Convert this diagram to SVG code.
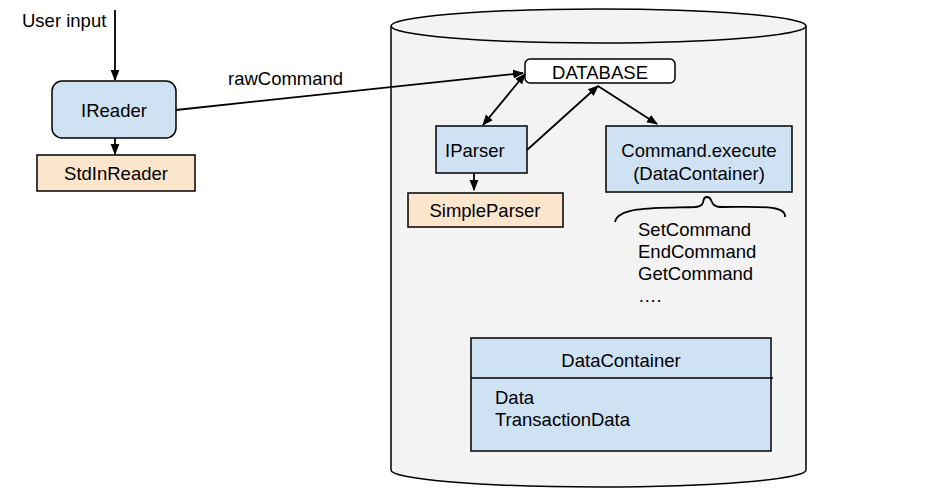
<svg xmlns="http://www.w3.org/2000/svg" width="950" height="502" viewBox="0 0 950 502">
<defs>
<marker id="ah" viewBox="0 0 10 10" refX="9" refY="5" markerWidth="11" markerHeight="11" markerUnits="userSpaceOnUse" orient="auto-start-reverse">
<path d="M0,1 L10,5 L0,9 Z" fill="#000"/>
</marker>
<style>
text{font-family:"Liberation Sans",Arial,sans-serif;font-size:18.5px;fill:#000}
.c{text-anchor:middle}
.blue{fill:#cfe2f3;stroke:#000;stroke-width:1.5}
.orange{fill:#fce5cd;stroke:#000;stroke-width:1.5}
.ln{fill:none;stroke:#000;stroke-width:1.8}
</style>
</defs>
<rect width="950" height="502" fill="#fff"/>
<g id="cylinder">
<path d="M391,26 L391,470 A207.5,17 0 0 0 806,470 L806,26" fill="#f3f3f3" stroke="#000" stroke-width="1.5"/>
<ellipse cx="598.5" cy="26" rx="207.5" ry="17" fill="#f3f3f3" stroke="#000" stroke-width="1.5"/>
</g>
<g id="user-input"><text x="22" y="27">User input</text></g>
<g id="ireader">
<rect class="blue" x="52" y="81" width="124" height="57" rx="10"/>
<text class="c" x="114" y="117">IReader</text>
</g>
<g id="stdinreader">
<rect class="orange" x="37" y="155" width="158" height="36"/>
<text class="c" x="116" y="180">StdInReader</text>
</g>
<g id="rawcommand-label"><text x="228" y="85">rawCommand</text></g>
<g id="database">
<rect x="525" y="59" width="150" height="24" rx="5" fill="#fff" stroke="#000" stroke-width="1.5"/>
<text class="c" x="600" y="79">DATABASE</text>
</g>
<g id="iparser">
<rect class="blue" x="436" y="126" width="91" height="47"/>
<text x="445" y="157">IParser</text>
</g>
<g id="simpleparser">
<rect class="orange" x="408" y="193" width="155" height="34"/>
<text class="c" x="485" y="217">SimpleParser</text>
</g>
<g id="command-execute">
<rect class="blue" x="606" y="126" width="186" height="66"/>
<text class="c" x="699" y="157">Command.execute</text>
<text class="c" x="699" y="180">(DataContainer)</text>
</g>
<g id="commands">
<path class="ln" d="M615,222 C618,206 660,208 695,207 C708,206 700,197 707,197 C714,197 708,207 722,207 C760,207 786,205 785,217"/>
<text x="638" y="236">SetCommand</text>
<text x="638" y="258">EndCommand</text>
<text x="638" y="280">GetCommand</text>
<text x="638" y="302">….</text>
</g>
<g id="datacontainer">
<rect class="blue" x="471" y="338" width="300" height="113"/>
<line x1="471" y1="378" x2="773" y2="378" stroke="#000" stroke-width="1.5"/>
<text class="c" x="621" y="367">DataContainer</text>
<text x="495" y="404">Data</text>
<text x="495" y="426">TransactionData</text>
</g>
<g id="connectors">
<line class="ln" x1="115" y1="10" x2="115" y2="80" marker-end="url(#ah)"/>
<line class="ln" x1="115" y1="138" x2="115" y2="154" marker-end="url(#ah)"/>
<line class="ln" x1="176" y1="110" x2="523" y2="73" marker-end="url(#ah)"/>
<line class="ln" x1="525" y1="74" x2="483" y2="125" marker-start="url(#ah)" marker-end="url(#ah)"/>
<line class="ln" x1="527" y1="150" x2="598" y2="86" marker-end="url(#ah)"/>
<line class="ln" x1="598" y1="86" x2="657" y2="124" marker-end="url(#ah)"/>
<line class="ln" x1="474" y1="173" x2="474" y2="190" marker-end="url(#ah)"/>
</g>
</svg>
